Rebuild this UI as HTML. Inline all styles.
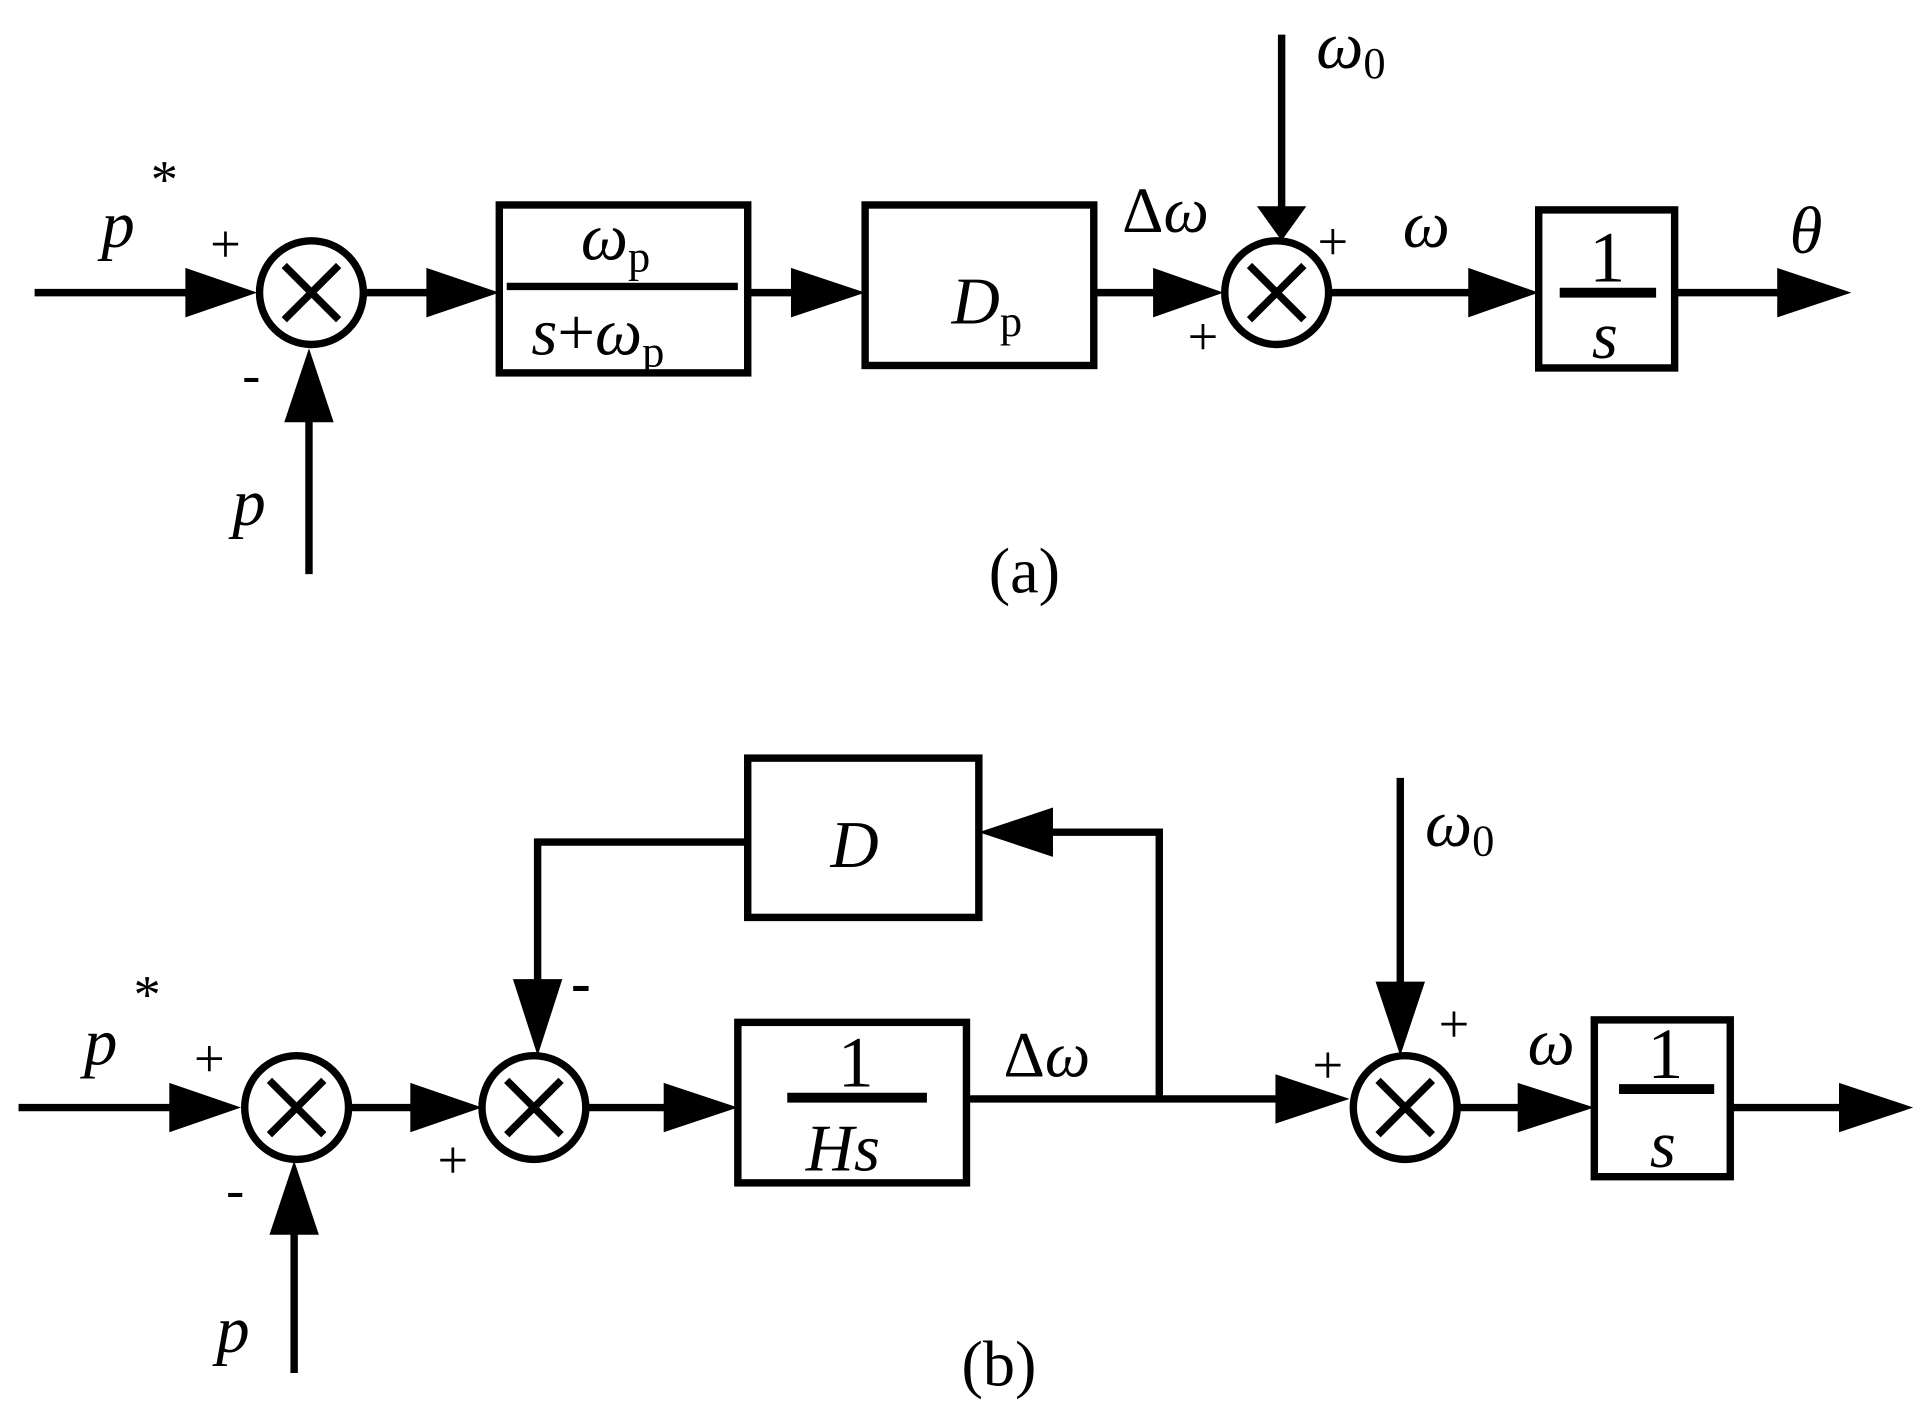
<!DOCTYPE html>
<html><head><style>html,body{margin:0;padding:0;background:#fff}svg{display:block}</style></head><body>
<svg width="1928" height="1415" viewBox="0 0 1560 1146" preserveAspectRatio="none" xmlns="http://www.w3.org/2000/svg" font-family="Liberation Serif, serif">
<g stroke="#000" stroke-width="6" fill="none">
<!-- (a) -->
<line x1="28" y1="237" x2="160" y2="237"/>
<circle cx="252" cy="237" r="42"/>
<line x1="230" y1="215" x2="274" y2="259"/><line x1="274" y1="215" x2="230" y2="259"/>
<line x1="294" y1="237" x2="350" y2="237"/>
<rect x="404" y="166" width="201" height="136"/>
<line x1="410" y1="232" x2="597" y2="232"/>
<line x1="605" y1="237" x2="650" y2="237"/>
<rect x="700" y="166" width="185" height="130"/>
<line x1="885" y1="237" x2="940" y2="237"/>
<circle cx="1033" cy="237" r="42"/>
<line x1="1011" y1="215" x2="1055" y2="259"/><line x1="1055" y1="215" x2="1011" y2="259"/>
<line x1="1037" y1="28" x2="1037" y2="175"/>
<line x1="1075" y1="237" x2="1195" y2="237"/>
<rect x="1245" y="170" width="110" height="128"/>
<line x1="1262" y1="237" x2="1340" y2="237" stroke-width="8"/>
<line x1="1355" y1="237" x2="1445" y2="237"/>
<line x1="250" y1="465" x2="250" y2="335"/>
<!-- (b) -->
<line x1="15" y1="897" x2="145" y2="897"/>
<circle cx="240" cy="897" r="42"/>
<line x1="218" y1="875" x2="262" y2="919"/><line x1="262" y1="875" x2="218" y2="919"/>
<line x1="282" y1="897" x2="340" y2="897"/>
<circle cx="432" cy="897" r="42"/>
<line x1="410" y1="875" x2="454" y2="919"/><line x1="454" y1="875" x2="410" y2="919"/>
<line x1="474" y1="897" x2="545" y2="897"/>
<rect x="597" y="828" width="185" height="130"/>
<line x1="637" y1="889" x2="750" y2="889" stroke-width="8"/>
<line x1="782" y1="890" x2="1040" y2="890"/>
<polyline points="938,890 938,674 850,674"/>
<rect x="605" y="614" width="187" height="129"/>
<polyline points="605,682 435,682 435,800"/>
<circle cx="1137" cy="897" r="42"/>
<line x1="1115" y1="875" x2="1159" y2="919"/><line x1="1159" y1="875" x2="1115" y2="919"/>
<line x1="1133" y1="630" x2="1133" y2="800"/>
<line x1="1179" y1="897" x2="1235" y2="897"/>
<rect x="1290" y="826" width="110" height="127"/>
<line x1="1310" y1="882" x2="1387" y2="882" stroke-width="8"/>
<line x1="1400" y1="897" x2="1495" y2="897"/>
<line x1="238" y1="1112" x2="238" y2="995"/>
</g>
<g fill="#000">
<polygon points="150,217 208,237 150,257"/>
<polygon points="345,217 404,237 345,257"/>
<polygon points="640,217 700,237 640,257"/>
<polygon points="933,217 990,237 933,257"/>
<polygon points="1017,167 1057,167 1037,195"/>
<polygon points="1188,217 1245,237 1188,257"/>
<polygon points="1438,217 1498,237 1438,257"/>
<polygon points="230,342 270,342 250,282"/>
<polygon points="137,877 195,897 137,917"/>
<polygon points="332,877 390,897 332,917"/>
<polygon points="537,877 597,897 537,917"/>
<polygon points="1032,870 1092,890 1032,910"/>
<polygon points="852,654 792,674 852,694"/>
<polygon points="415,793 455,793 435,855"/>
<polygon points="1113,795 1153,795 1133,855"/>
<polygon points="1228,877 1290,897 1228,917"/>
<polygon points="1488,877 1548,897 1488,917"/>
<polygon points="218,1000 258,1000 238,940"/>
</g>
<g font-size="54" font-style="italic">
<text x="82" y="200">p</text>
<text x="188" y="425">p</text>
<text x="470" y="210">ω<tspan font-style="normal" font-size="36" dy="10">p</tspan></text>
<text x="430" y="287">s<tspan font-style="normal">+</tspan>ω<tspan font-style="normal" font-size="36" dy="10">p</tspan></text>
<text x="770" y="262">D<tspan font-style="normal" font-size="36" dy="10">p</tspan></text>
<text x="1065" y="55">ω<tspan font-style="normal" font-size="36" dy="8">0</tspan></text>
<text x="1135" y="200">ω</text>
<text x="1448" y="205">θ</text>
<text x="1288" y="290">s</text>
<text x="68" y="862">p</text>
<text x="175" y="1095">p</text>
<text x="672" y="702">D</text>
<text x="652" y="948">Hs</text>
<text x="1335" y="945">s</text>
<text x="1153" y="685">ω<tspan font-style="normal" font-size="36" dy="8">0</tspan></text>
<text x="1236" y="862">ω</text>
</g>
<g font-size="52">
<text x="908" y="188">Δ<tspan font-style="italic">ω</tspan></text>
<text x="812" y="872">Δ<tspan font-style="italic">ω</tspan></text>
</g>
<g font-size="58">
<text x="1286" y="228">1</text>
<text x="678" y="880">1</text>
<text x="1333" y="873">1</text>
<text x="800" y="480" font-size="52">(a)</text>
<text x="778" y="1122" font-size="52">(b)</text>
</g>
<g font-size="44">
<text x="122" y="160">*</text>
<text x="108" y="820">*</text>
<text x="170" y="212">+</text>
<text x="196" y="318">-</text>
<text x="1066" y="210">+</text>
<text x="961" y="287">+</text>
<text x="157" y="872">+</text>
<text x="183" y="978">-</text>
<text x="354" y="954">+</text>
<text x="1164" y="844">+</text>
<text x="1062" y="877">+</text>
<text x="462" y="812" font-size="48" font-weight="bold">-</text>
</g>
</svg>
</body></html>
